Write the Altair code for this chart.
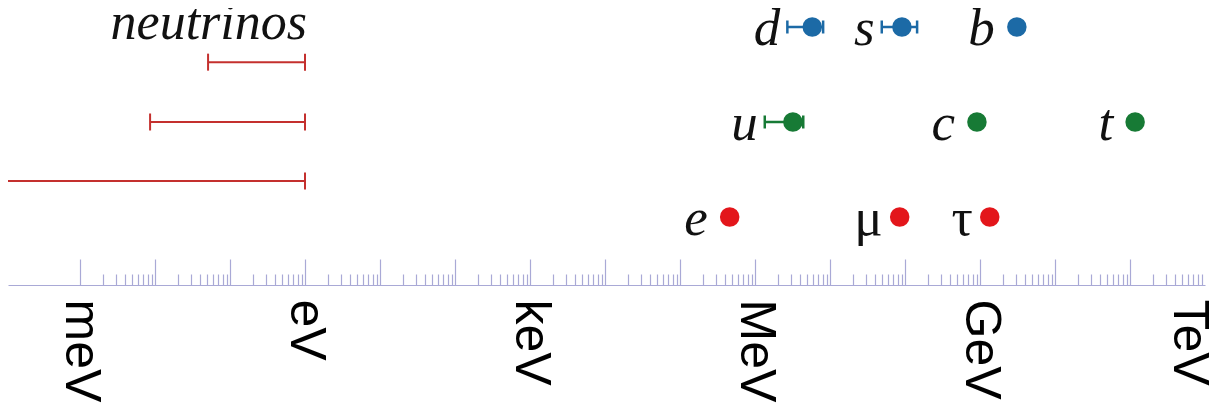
import json
import altair as alt
import pandas as pd

# ---------------- data (masses in eV) ----------------
particle_names = ["d", "s", "b", "u", "c", "t", "e", "μ", "τ"]
particle_mass = [5.8e6, 9.1e7, 3.1e9, 3.2e6, 9.1e8, 1.17e11, 4.6e5, 8.5e7, 1.35e9]
particle_row = [1, 1, 1, 2, 2, 2, 3, 3, 3]
particle_group = ["down", "down", "down", "up", "up", "up", "lepton", "lepton", "lepton"]
particle_italic = [True, True, True, True, True, True, True, False, False]
particle_has_err = [True, True, False, True, False, False, False, False, False]

err_names = ["d", "s", "u"]
err_low = [2.7e6, 4.9e7, 1.35e6]
err_high = [8.1e6, 1.45e8, 4.4e6]
err_row = [1, 1, 2]
err_group = ["down", "down", "up"]

nu_low = [0.051, 0.0086, 1e-4]
nu_high = [1.0, 1.0, 1.0]
nu_row = [1.37, 2.0, 2.62]
nu_low_cap = [True, True, False]
nu_label = "neutrinos"
nu_label_row = 1.13

unit_values = [1e-3, 1.0, 1e3, 1e6, 1e9, 1e12]
unit_labels = ["meV", "eV", "keV", "MeV", "GeV", "TeV"]

tick_values = [m * 10.0 ** k for k in range(-3, 12) for m in range(1, 10)]

group_domain = ["down", "up", "lepton"]
group_colors = ["#1c6aa6", "#177a35", "#e3161b"]

# ---------------- layout ----------------
W = 1197
H = 277
axis_color = "#a9a9d6"
nu_color = "#c4302e"

xs = alt.Scale(type="log", domain=[10 ** -3.96, 1e12], nice=False)
ys = alt.Scale(domain=[0.8, 3.716], reverse=True, nice=False, zero=False)
cs = alt.Scale(domain=group_domain, range=group_colors)

# ---------------- tables ----------------
pts = pd.DataFrame({
    "name": particle_names, "mass": particle_mass, "row": particle_row,
    "group": particle_group, "italic": particle_italic, "has_err": particle_has_err,
})
lo_map = dict(zip(err_names, err_low))
pts["anchor"] = [lo_map.get(n, m) for n, m in zip(particle_names, particle_mass)]

err = pd.DataFrame({"name": err_names, "low": err_low, "high": err_high,
                    "row": err_row, "group": err_group})
err_caps = pd.concat([
    pd.DataFrame({"v": err_low, "row": err_row, "group": err_group}),
    pd.DataFrame({"v": err_high, "row": err_row, "group": err_group}),
])

nu = pd.DataFrame({"low": nu_low, "high": nu_high, "row": nu_row})
nu_caps = pd.concat([
    pd.DataFrame({"v": [l for l, c in zip(nu_low, nu_low_cap) if c],
                  "row": [r for r, c in zip(nu_row, nu_low_cap) if c]}),
    pd.DataFrame({"v": nu_high, "row": nu_row}),
])
nu_text = pd.DataFrame({"v": [1.0], "row": [nu_label_row], "label": [nu_label]})

major_test = "abs(log(datum.value)/LN10 - round(log(datum.value)/LN10)) < 0.001"

tick_axis = alt.Axis(
    orient="top", offset=-H, values=tick_values, labels=False, title=None,
    grid=False, domainColor=axis_color, domainWidth=1.2,
    tickColor=axis_color, tickWidth=1.2,
    tickSize={"condition": {"test": major_test, "value": 26}, "value": 11},
)

label_expr = json.dumps(unit_labels) + "[round(log(datum.value)/LN10/3) + 1]"
label_axis = alt.Axis(
    orient="bottom", values=unit_values, labelExpr=label_expr, labelAngle=90,
    labelAlign="left", labelBaseline="middle", labelFont="Liberation Sans",
    labelFontSize=50, labelColor="#000000", labelPadding=14, ticks=False,
    tickSize=0, domain=False, title=None, grid=False, labelOverlap=False,
    labelFlush=False, labelBound=False,
    labelOffset={"condition": {"test": "datum.value > 1e11", "value": -17}, "value": 0},
)

Y = alt.Y("row:Q", scale=ys, axis=None)

nu_rule = alt.Chart(nu).mark_rule(color=nu_color, strokeWidth=2, clip=True).encode(
    x=alt.X("low:Q", scale=xs, axis=tick_axis), x2="high:Q", y=Y)
nu_tick = alt.Chart(nu_caps).mark_tick(orient="vertical", size=17, thickness=2,
                                       color=nu_color, opacity=1).encode(
    x=alt.X("v:Q", scale=xs, axis=None), y=Y)

err_rule = alt.Chart(err).mark_rule(strokeWidth=2.5).encode(
    x=alt.X("low:Q", scale=xs, axis=None), x2="high:Q", y=Y,
    color=alt.Color("group:N", scale=cs, legend=None))
err_tick = alt.Chart(err_caps).mark_tick(orient="vertical", size=13, thickness=2.5,
                                         opacity=1).encode(
    x=alt.X("v:Q", scale=xs, axis=None), y=Y,
    color=alt.Color("group:N", scale=cs, legend=None))

dots = alt.Chart(pts).mark_circle(size=380, opacity=1).encode(
    x=alt.X("mass:Q", scale=xs, axis=label_axis), y=Y,
    color=alt.Color("group:N", scale=cs, legend=None))

txt_base = dict(font="Liberation Serif", fontSize=53, align="right",
                baseline="alphabetic", dy=18, color="#111111")
lab_err = alt.Chart(pts).transform_filter("datum.has_err").mark_text(
    fontStyle="italic", dx=-7, **txt_base).encode(
    x=alt.X("anchor:Q", scale=xs, axis=None), y=Y, text="name:N")
lab_it = alt.Chart(pts).transform_filter("datum.italic && !datum.has_err").mark_text(
    fontStyle="italic", dx=-22, **txt_base).encode(
    x=alt.X("mass:Q", scale=xs, axis=None), y=Y, text="name:N")
lab_up = alt.Chart(pts).transform_filter("!datum.italic").mark_text(
    dx=-17, **txt_base).encode(
    x=alt.X("mass:Q", scale=xs, axis=None), y=Y, text="name:N")
lab_nu = alt.Chart(nu_text).mark_text(
    font="Liberation Serif", fontStyle="italic", fontSize=52, align="right",
    baseline="alphabetic", dx=2, color="#111111").encode(
    x=alt.X("v:Q", scale=xs, axis=None), y=Y, text="label:N")

chart = alt.layer(
    nu_rule, nu_tick, err_rule, err_tick, dots, lab_err, lab_it, lab_up, lab_nu
).resolve_axis(x="independent").resolve_scale(x="shared", y="shared").properties(
    width=W, height=H, background="white",
    autosize=alt.AutoSizeParams(type="none"),
    padding={"left": 0, "top": 0, "right": 4, "bottom": 125},
).configure_view(stroke=None)

chart.save("out.html", embed_options={"renderer": "svg", "actions": False})
